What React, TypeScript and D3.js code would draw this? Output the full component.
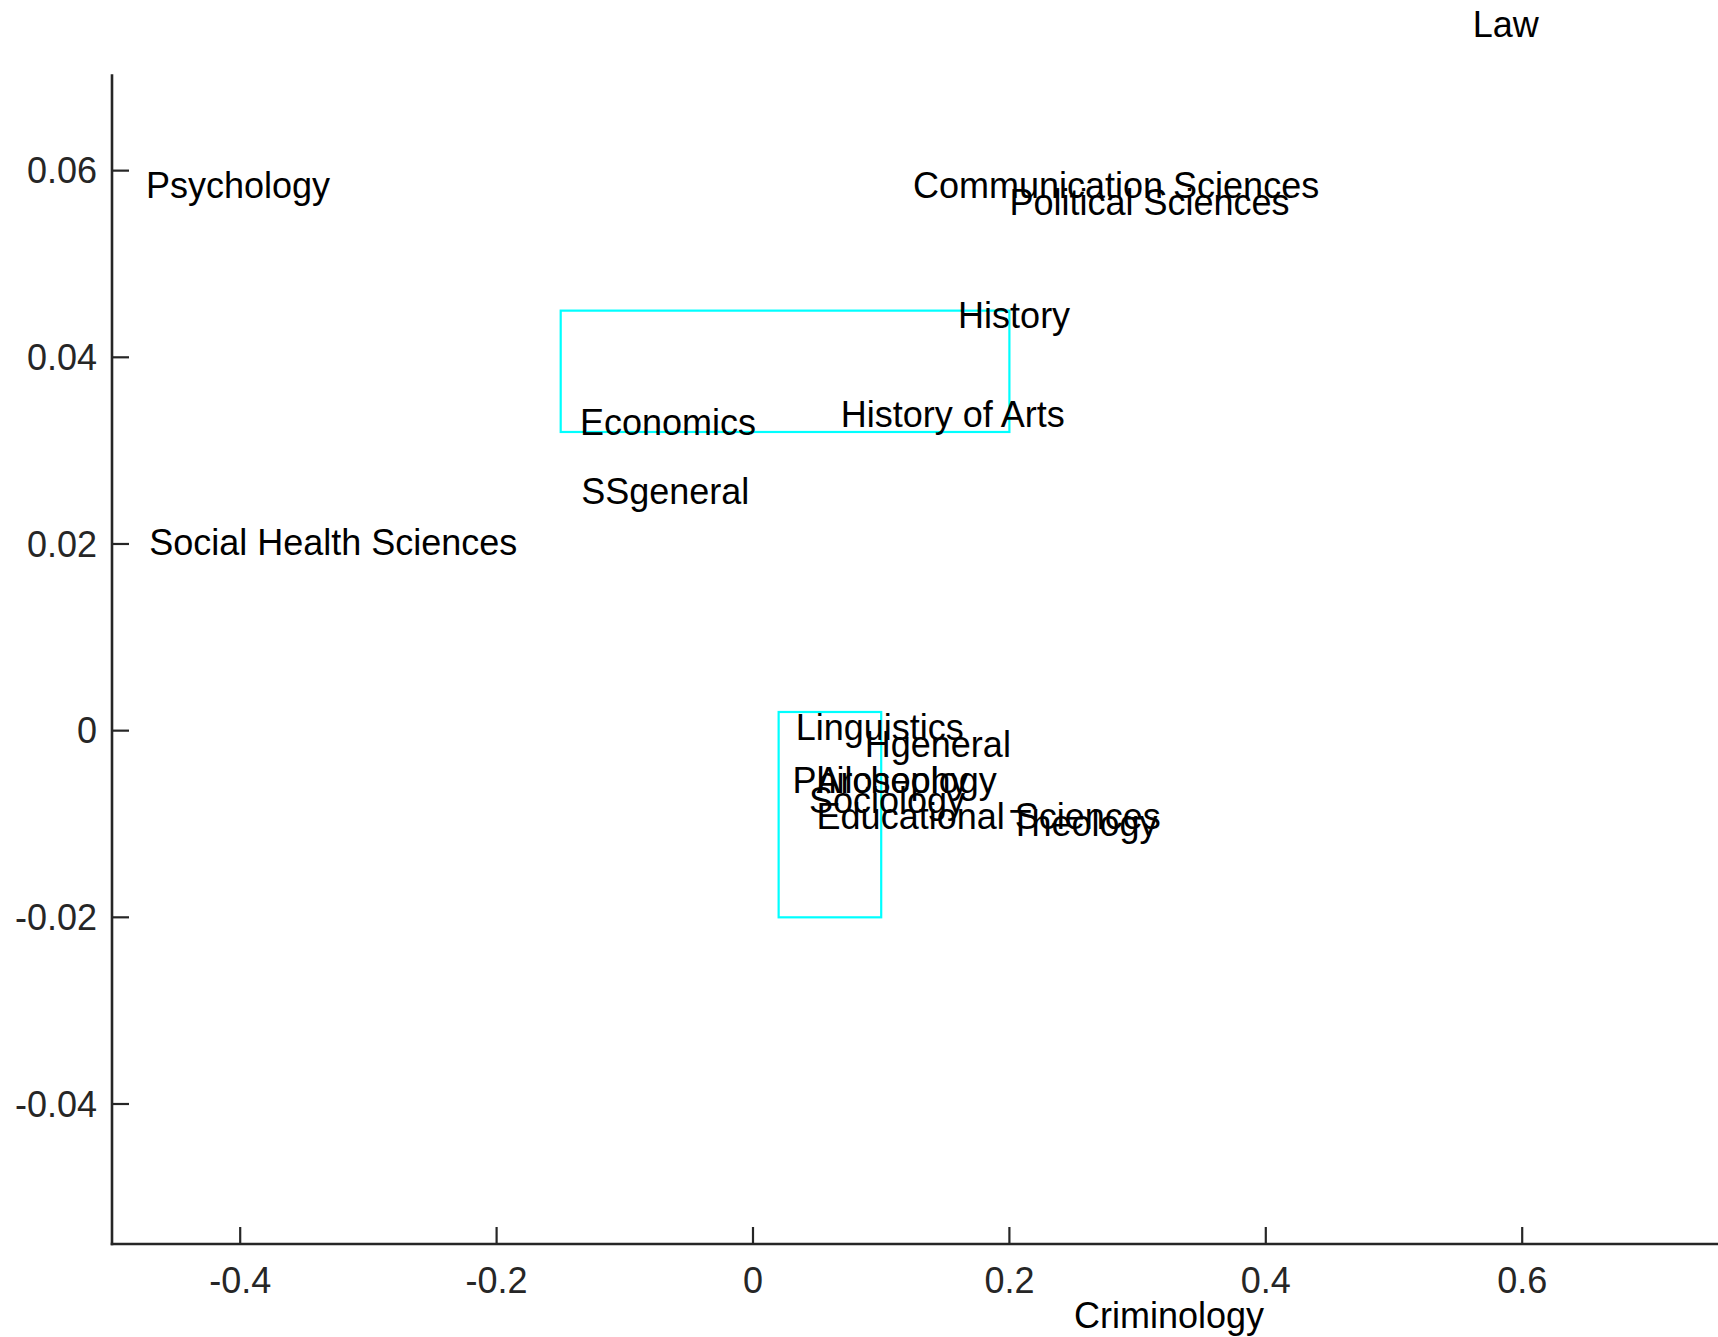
import React from "react";
import * as d3 from "d3";

const labels = [
  "Law", "Psychology", "Communication Sciences", "Political Sciences", "History",
  "Economics", "History of Arts", "SSgeneral", "Social Health Sciences", "Linguistics",
  "Hgeneral", "Philosophy", "Archeology", "Sociology", "Educational Sciences", "Theology", "Criminology",
];
const xValues = [0.5615, -0.4735, 0.1248, 0.2, 0.160, -0.135, 0.0684, -0.134, -0.471, 0.0333, 0.0872, 0.0308, 0.0496, 0.0436, 0.0496, 0.2, 0.2504];
const yValues = [0.0757, 0.0584, 0.0584, 0.0566, 0.0445, 0.0330, 0.0339, 0.0256, 0.0202, 0.0003, -0.0015, -0.0053, -0.0053, -0.0075, -0.0092, -0.0099, -0.0626];

const rectX = [-0.15, 0.02];
const rectY = [0.032, -0.02];
const rectW = [0.35, 0.08];
const rectH = [0.013, 0.022];

const xTicks = [-0.4, -0.2, 0, 0.2, 0.4, 0.6];
const yTicks = [-0.04, -0.02, 0, 0.02, 0.04, 0.06];

const W = 1718;
const H = 1337;
const FONT = "'Liberation Sans', Arial, Helvetica, sans-serif";

export default function App() {
  const x = d3.scaleLinear().domain([-0.5, 0.75]).range([112, 1714.5]);
  const y = d3.scaleLinear().domain([-0.055, 0.07]).range([1244, 77.3]);
  const axisColor = "#262626";
  const fmt = (v: number) => (v === 0 ? "0" : String(v).replace("\u2212", "-"));
  const tickLen = 17;
  const fs = 36;
  return (
    <svg width={W} height={H} style={{ position: "absolute", left: 0, top: 0, background: "#fff" }} fontFamily={FONT}>
      <rect x={0} y={0} width={W} height={H} fill="#fff" />
      {rectX.map((rx, i) => (
        <rect
          key={"r" + i}
          x={x(rx)}
          y={y(rectY[i] + rectH[i])}
          width={x(rx + rectW[i]) - x(rx)}
          height={y(rectY[i]) - y(rectY[i] + rectH[i])}
          fill="none"
          stroke="#00ffff"
          strokeWidth={2.2}
        />
      ))}
      <line x1={x(-0.5)} x2={x(-0.5)} y1={y(0.07) - 3} y2={y(-0.055) + 1.3} stroke={axisColor} strokeWidth={2.6} />
      <line x1={x(-0.5) - 1.3} x2={W} y1={y(-0.055)} y2={y(-0.055)} stroke={axisColor} strokeWidth={2.6} />
      {xTicks.map((t) => (
        <g key={"xt" + t}>
          <line x1={x(t)} x2={x(t)} y1={y(-0.055)} y2={y(-0.055) - tickLen} stroke={axisColor} strokeWidth={2.2} />
          <text x={x(t)} y={y(-0.055) + 36} dy="0.35em" textAnchor="middle" fontSize={fs} fill={axisColor}>
            {fmt(t)}
          </text>
        </g>
      ))}
      {yTicks.map((t) => (
        <g key={"yt" + t}>
          <line x1={x(-0.5)} x2={x(-0.5) + tickLen} y1={y(t)} y2={y(t)} stroke={axisColor} strokeWidth={2.2} />
          <text x={x(-0.5) - 15} y={y(t)} dy="0.35em" textAnchor="end" fontSize={fs} fill={axisColor}>
            {fmt(t)}
          </text>
        </g>
      ))}
      {labels.map((l, i) => (
        <text key={"l" + i} x={x(xValues[i])} y={y(yValues[i])} dy="0.35em" fontSize={fs} fill="#000">
          {l}
        </text>
      ))}
    </svg>
  );
}
